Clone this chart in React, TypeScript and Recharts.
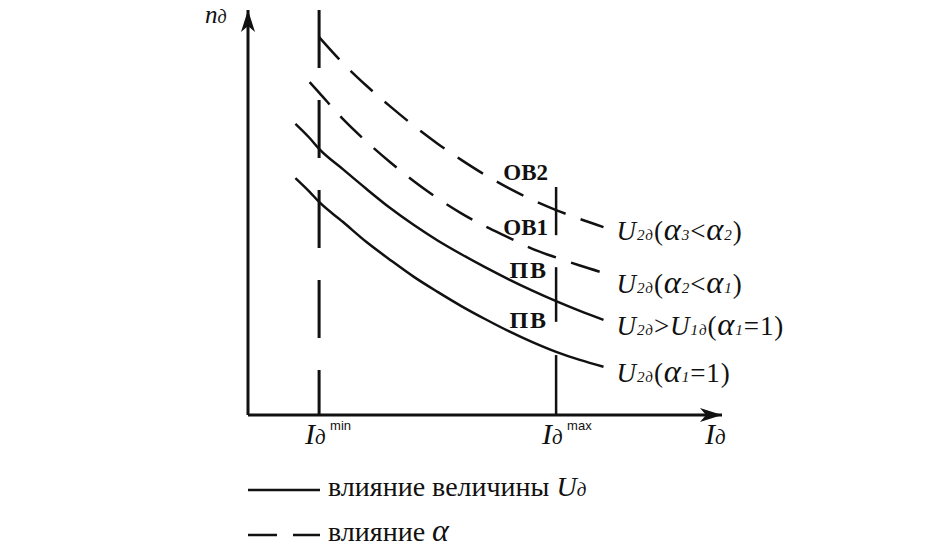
import React from 'react';
import { LineChart, Line, XAxis, YAxis, ReferenceLine, ReferenceDot } from 'recharts';

// current I (arbitrary units) and speed n for each characteristic
const X = [10, 13, 15, 20, 25, 30, 35, 40, 45, 50, 55, 60, 65, 70, 75];
const U1 = [58.5, 55.1, 52.6, 47.7, 42.7, 38.3, 34.1, 30.4, 26.9, 23.7, 20.7, 18.0, 15.6, 13.6, 11.9];
const U2 = [71.9, 68.4, 65.7, 60.7, 55.8, 51.1, 46.9, 43.1, 39.7, 36.5, 33.5, 30.7, 28.1, 25.7, 23.5];
const A2 = [null, 82.2, 79.6, 73.1, 67.5, 62.4, 57.7, 53.5, 49.8, 46.6, 43.8, 41.0, 38.9, 36.9, 35.1];
const A3 = [null, null, 93.3, 86.9, 81.3, 76.2, 71.4, 67.0, 63.0, 59.3, 56.0, 53.1, 50.6, 48.4, 46.4];

const I_MIN = 15;
const I_MAX = 65;
const IMAX_SEGMENTS = [[56.3, 44.4], [36.5, 23.0], [14.8, 0]];
const ZONE_LABELS = ['ОВ2', 'ОВ1', 'ПВ', 'ПВ'];
const ZONE_Y = [58.0, 44.4, 33.8, 21.5];

const SERIES = [
  { key: 'a3', label: 'U_{2д}(α_{3}<α_{2})', dashed: true, dy: 13 },
  { key: 'a2', label: 'U_{2д}(α_{2}<α_{1})', dashed: true, dy: 20 },
  { key: 'u2', label: 'U_{2д}>U_{1д}(α_{1}=1)', dashed: false, dy: 15 },
  { key: 'u1', label: 'U_{2д}(α_{1}=1)', dashed: false, dy: 15 },
];

const data = X.map((x, i) => ({ x, u1: U1[i], u2: U2[i], a2: A2[i], a3: A3[i] }));

const INK = '#111';
const SERIF = "'Liberation Serif', 'Times New Roman', Times, serif";

function Rich({ text, x, y, size }: { text: string; x: number; y: number; size: number }) {
  const parts = text.split(/_\{([^}]*)\}/);
  const spans: React.ReactNode[] = [];
  parts.forEach((p, i) => {
    if (i % 2 === 1) {
      spans.push(<tspan key={i} fontSize={size * 0.56} fontStyle="italic">{p}</tspan>);
    } else {
      p.split('').forEach((ch, j) => {
        const alpha = ch === 'α';
        spans.push(
          <tspan
            key={i + '-' + j}
            fontSize={alpha ? size * 1.2 : size}
            fontStyle={/[A-Za-zα]/.test(ch) ? 'italic' : 'normal'}
          >
            {ch}
          </tspan>
        );
      });
    }
  });
  return (
    <text x={x} y={y} style={{ fontFamily: SERIF }} fontSize={size} letterSpacing={0.9} fill={INK}>
      {spans}
    </text>
  );
}

const endLabel = (text: string, dy: number) => (props: any) => {
  if (props.index !== X.length - 1) return null;
  return <Rich text={text} x={props.x + 13} y={props.y + dy} size={27} />;
};

const CurrentTick = (props: any) => {
  const { x, y, payload } = props;
  return (
    <g>
      <text x={x - 14} y={y + 21} style={{ fontFamily: SERIF }} fontSize={30} fontStyle="italic" fill={INK}>
        I<tspan fontSize={21}>д</tspan>
      </text>
      <text x={x + 11} y={y + 7} style={{ fontFamily: "'Liberation Sans', Arial, sans-serif" }} fontSize={13} fill={INK}>
        {payload.value === I_MIN ? 'min' : 'max'}
      </text>
    </g>
  );
};

export default function App() {
  return (
    <div style={{ position: 'relative', width: 938, height: 557, margin: -8, overflow: 'hidden', background: '#fff' }}>
      <LineChart width={938} height={557} data={data} margin={{ top: 10, right: 216, bottom: 112, left: 188 }}>
        <XAxis
          dataKey="x"
          type="number"
          domain={[0, 100]}
          ticks={[I_MIN, I_MAX]}
          tick={CurrentTick}
          tickLine={false}
          axisLine={{ stroke: INK, strokeWidth: 3 }}
          height={30}
        />
        <YAxis type="number" domain={[0, 100]} tick={false} tickLine={false} axisLine={{ stroke: INK, strokeWidth: 3 }} width={60} />

        <ReferenceLine
          segment={[{ x: I_MIN, y: 100 }, { x: I_MIN, y: 0 }]}
          stroke={INK}
          strokeWidth={3}
          strokeDasharray="58 32"
        />
        {IMAX_SEGMENTS.map(([a, b], i) => (
          <ReferenceLine key={i} segment={[{ x: I_MAX, y: a }, { x: I_MAX, y: b }]} stroke={INK} strokeWidth={2.5} />
        ))}

        {SERIES.map((s) => (
          <Line
            key={s.key}
            dataKey={s.key}
            type="monotone"
            stroke={INK}
            strokeWidth={2.5}
            strokeDasharray={s.dashed ? '30 16' : undefined}
            dot={false}
            activeDot={false}
            isAnimationActive={false}
            label={endLabel(s.label, s.dy)}
          />
        ))}

        {ZONE_LABELS.map((t, i) => (
          <ReferenceDot
            key={i}
            x={I_MAX}
            y={ZONE_Y[i]}
            ifOverflow="visible"
            shape={(p: any) => (
              <text
                x={p.cx - 8}
                y={p.cy}
                textAnchor="end"
                style={{ fontFamily: SERIF }}
                fontWeight="bold"
                fontSize={t === 'ПВ' ? 24 : 23}
                letterSpacing={t === 'ПВ' ? 2 : 0}
                fill={INK}
              >
                {t}
              </text>
            )}
          />
        ))}

        {/* axis arrows and titles */}
        <ReferenceDot
          x={100}
          y={0}
          ifOverflow="visible"
          shape={(p: any) => (
            <g>
              <polygon
                points={`${p.cx},${p.cy} ${p.cx - 22},${p.cy - 7} ${p.cx - 16},${p.cy} ${p.cx - 22},${p.cy + 7}`}
                fill={INK}
              />
              <text x={p.cx - 17} y={p.cy + 29} style={{ fontFamily: SERIF }} fontSize={30} fontStyle="italic" fill={INK}>
                I<tspan fontSize={21}>д</tspan>
              </text>
            </g>
          )}
        />
        <ReferenceDot
          x={0}
          y={100}
          ifOverflow="visible"
          shape={(p: any) => (
            <g>
              <polygon
                points={`${p.cx},${p.cy} ${p.cx - 7},${p.cy + 22} ${p.cx},${p.cy + 16} ${p.cx + 7},${p.cy + 22}`}
                fill={INK}
              />
              <text x={p.cx - 43} y={p.cy + 13} style={{ fontFamily: SERIF }} fontSize={25} fontStyle="italic" fill={INK}>
                n<tspan fontSize={18}>д</tspan>
              </text>
            </g>
          )}
        />
      </LineChart>

      <svg width={938} height={557} style={{ position: 'absolute', left: 0, top: 0, pointerEvents: 'none' }}>
        <line x1={248} y1={490} x2={320} y2={490} stroke={INK} strokeWidth={2.5} />
        <text x={328} y={496} style={{ fontFamily: SERIF }} fontSize={28} fill={INK}>
          влияние величины <tspan fontStyle="italic">U</tspan>
          <tspan fontStyle="italic" fontSize={19}>д</tspan>
        </text>
        <line x1={248} y1={535} x2={320} y2={535} stroke={INK} strokeWidth={2.5} strokeDasharray="29 16" />
        <text x={328} y={541} style={{ fontFamily: SERIF }} fontSize={28} fill={INK}>
          влияние <tspan fontStyle="italic" fontSize={32}>α</tspan>
        </text>
        <text x={893} y={569} style={{ fontFamily: SERIF }} fontSize={22} fill="#aaa">217</text>
      </svg>
    </div>
  );
}
